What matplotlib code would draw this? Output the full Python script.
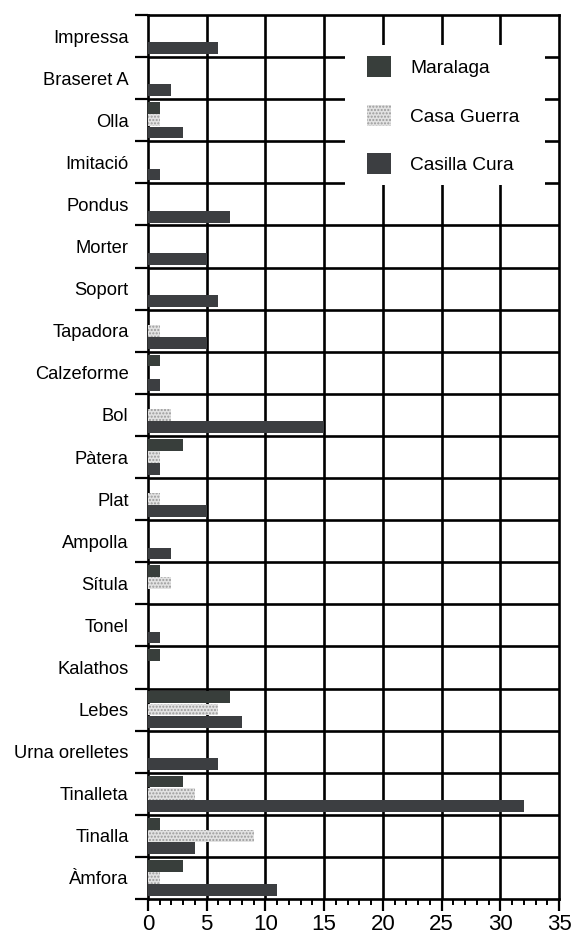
import numpy as np
import matplotlib
matplotlib.use("Agg")
import matplotlib.pyplot as plt
from matplotlib.ticker import MultipleLocator, FixedLocator
from matplotlib.patches import Rectangle

plt.rcParams['font.family'] = ['Liberation Sans', 'DejaVu Sans']

categories = ["Impressa", "Braseret A", "Olla", "Imitació", "Pondus", "Morter",
              "Soport", "Tapadora", "Calzeforme", "Bol", "Pàtera", "Plat",
              "Ampolla", "Sítula", "Tonel", "Kalathos", "Lebes",
              "Urna orelletes", "Tinalleta", "Tinalla", "Àmfora"]
maralaga =     [0, 0, 1, 0, 0, 0, 0, 0, 1, 0, 3, 0, 0, 1, 0, 1, 7, 0, 3, 1, 3]
casa_guerra =  [0, 0, 1, 0, 0, 0, 0, 1, 0, 2, 1, 1, 0, 2, 0, 0, 6, 0, 4, 9, 1]
casilla_cura = [6, 2, 3, 1, 7, 5, 6, 5, 1, 15, 1, 5, 2, 0, 1, 0, 8, 6, 32, 4, 11]
series_names = ["Maralaga", "Casa Guerra", "Casilla Cura"]
x_ticks = [0, 5, 10, 15, 20, 25, 30, 35]

W, H = 573, 941
fig = plt.figure(figsize=(W/100, H/100), dpi=100)
ax_l, ax_r, ax_t, ax_b = 148, 559, 15, 899
ax = fig.add_axes([ax_l/W, 1 - ax_b/H, (ax_r-ax_l)/W, (ax_b-ax_t)/H])

def px_to_axes(px, py):
    return (px - ax_l) / (ax_r - ax_l), (ax_b - py) / (ax_b - ax_t)

y = np.arange(len(categories))
bh = 0.28
offs = [-0.29, 0.0, 0.29]
styles = [
    dict(color='#383e3b', edgecolor='none'),
    dict(facecolor='#e2e2e2', edgecolor='#9a9a9a', hatch='.....', linewidth=0),
    dict(color='#3c3e41', edgecolor='none'),
]
handles = []
for vals, off, st, name in zip([maralaga, casa_guerra, casilla_cura], offs, styles, series_names):
    v = np.array(vals, dtype=float)
    m = v > 0
    b = ax.barh(y[m] + off, v[m], height=bh, label=name, zorder=3, **st)
    handles.append(b)

ax.set_xlim(0, 35)
ax.set_ylim(len(categories) - 0.5, -0.5)

# grid lines
for xv in x_ticks[1:-1]:
    ax.axvline(xv, color='black', lw=1.9, zorder=1)
for yb in np.arange(0.5, len(categories) - 0.5, 1.0):
    ax.axhline(yb, color='black', lw=1.9, zorder=1)

for s in ax.spines.values():
    s.set_linewidth(1.9)

ax.set_yticks(y)
ax.set_yticklabels(categories, fontsize=13.2)
ax.yaxis.set_minor_locator(FixedLocator(np.arange(-0.5, len(categories) + 0.5, 1.0)))
ax.tick_params(axis='y', which='major', length=0, pad=14)
ax.tick_params(axis='y', which='minor', length=9.5, width=1.6, direction='out')

ax.set_xticks(x_ticks)
ax.set_xticklabels([str(t) for t in x_ticks], fontsize=16)
ax.xaxis.set_minor_locator(MultipleLocator(1))
ax.tick_params(axis='x', which='major', length=8.5, width=1.6, pad=2, direction='out')
ax.tick_params(axis='x', which='minor', length=4.5, width=1.4, direction='out')

# white background behind legend
x0, y0 = px_to_axes(345, 185)
x1, y1 = px_to_axes(545, 45)
ax.add_patch(Rectangle((x0, y0), x1 - x0, y1 - y0, transform=ax.transAxes,
                       facecolor='white', edgecolor='none', zorder=4))

leg = ax.legend(handles=handles, loc='upper left',
                bbox_to_anchor=px_to_axes(367, 56),
                borderaxespad=0, borderpad=0, fontsize=13.8, frameon=False,
                handlelength=1.25, handleheight=1.3, handletextpad=1.0,
                labelspacing=1.45)
leg.set_zorder(6)

fig.savefig("out.png", dpi=100)
